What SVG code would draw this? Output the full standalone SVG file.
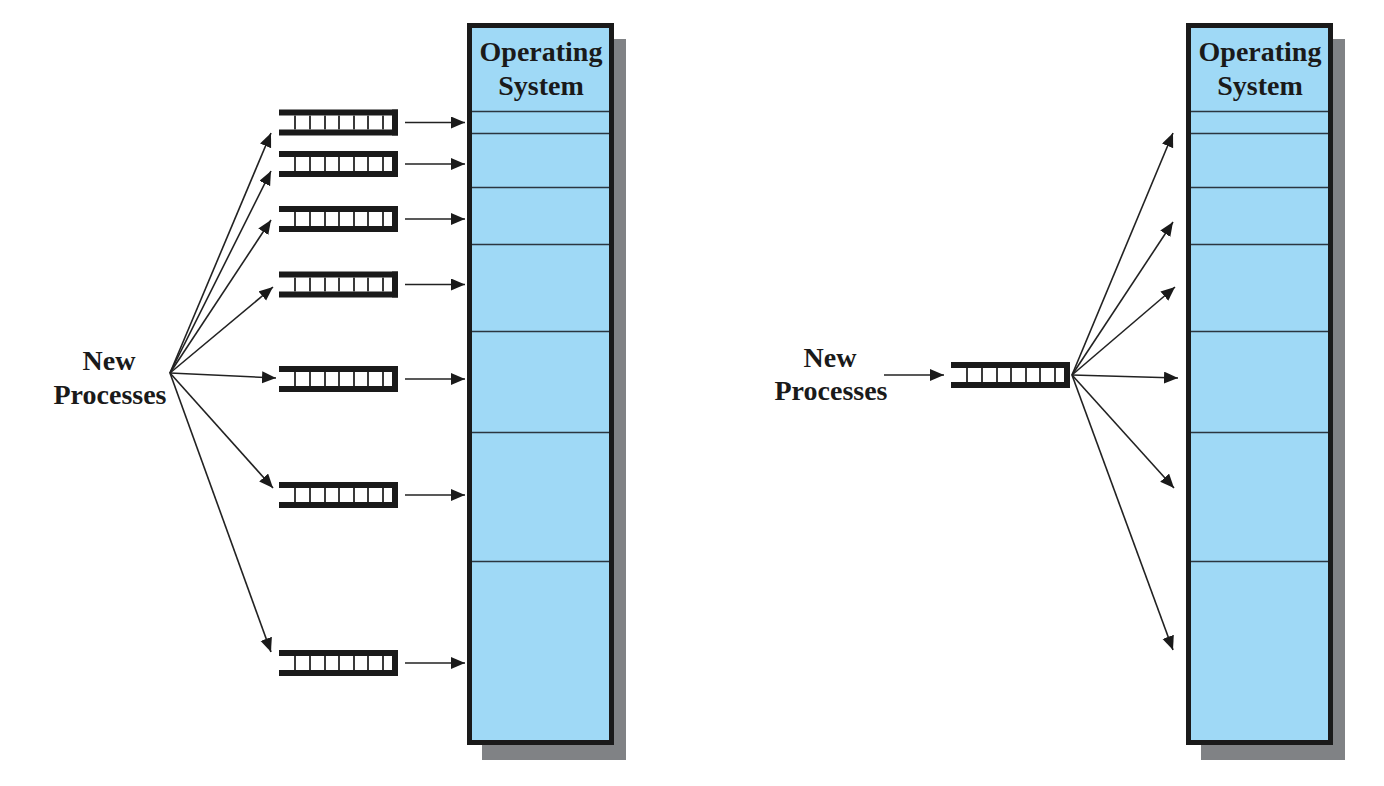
<svg xmlns="http://www.w3.org/2000/svg" xmlns:xlink="http://www.w3.org/1999/xlink" width="1384" height="786" viewBox="0 0 1384 786">
<style>
.lbl{font-family:"Liberation Serif","Times New Roman",serif;font-weight:bold;font-size:28px;fill:#1a1a1a;text-anchor:middle}
.shadow{fill:#808285}
.box{fill:#9fd9f6;stroke:#1a1a1a;stroke-width:5}
.div{stroke:#2b3640;stroke-width:1.6}
.conn{stroke:#222;stroke-width:1.6;fill:none;marker-end:url(#ah)}
.bar{fill:#1a1a1a}
.cell{stroke:#3a3a3a;stroke-width:2}
</style>
<defs>
<marker id="ah" markerUnits="userSpaceOnUse" markerWidth="15" markerHeight="13" refX="14" refY="6" orient="auto">
<path d="M0,0 L14,6 L0,12 z" fill="#1a1a1a"/>
</marker>
<g id="q">
<rect class="bar" x="0" y="-13" width="119" height="6"/>
<rect class="bar" x="0" y="7" width="119" height="6"/>
<rect class="bar" x="113" y="-13" width="6" height="26"/>
<g class="cell">
<line x1="16" y1="-7" x2="16" y2="7"/>
<line x1="31" y1="-7" x2="31" y2="7"/>
<line x1="46" y1="-7" x2="46" y2="7"/>
<line x1="60" y1="-7" x2="60" y2="7"/>
<line x1="75" y1="-7" x2="75" y2="7"/>
<line x1="89" y1="-7" x2="89" y2="7"/>
<line x1="104" y1="-7" x2="104" y2="7"/>
</g>
</g>
<g id="osbox">
<rect class="shadow" x="13" y="14" width="144" height="721"/>
<rect class="box" x="0.5" y="0.5" width="142" height="717"/>
<g class="div">
<line x1="3" y1="86.5" x2="140" y2="86.5"/>
<line x1="3" y1="108.5" x2="140" y2="108.5"/>
<line x1="3" y1="162.5" x2="140" y2="162.5"/>
<line x1="3" y1="219.5" x2="140" y2="219.5"/>
<line x1="3" y1="306.5" x2="140" y2="306.5"/>
<line x1="3" y1="407.5" x2="140" y2="407.5"/>
<line x1="3" y1="536.5" x2="140" y2="536.5"/>
</g>
<text class="lbl" x="72" y="36">Operating</text>
<text class="lbl" x="72" y="70">System</text>
</g>
</defs>

<g id="os-left"><use xlink:href="#osbox" x="469" y="25"/></g>
<g id="os-right"><use xlink:href="#osbox" x="1188" y="25"/></g>

<g id="new-left"><text class="lbl" x="109" y="370">New</text><text class="lbl" x="110" y="404">Processes</text></g>
<g id="new-right"><text class="lbl" x="830" y="367">New</text><text class="lbl" x="831" y="400">Processes</text></g>

<g id="q1"><use xlink:href="#q" x="279" y="122.5"/></g>
<g id="q2"><use xlink:href="#q" x="279" y="164"/></g>
<g id="q3"><use xlink:href="#q" x="279" y="219"/></g>
<g id="q4"><use xlink:href="#q" x="279" y="284.5"/></g>
<g id="q5"><use xlink:href="#q" x="279" y="379"/></g>
<g id="q6"><use xlink:href="#q" x="279" y="495"/></g>
<g id="q7"><use xlink:href="#q" x="279" y="663"/></g>
<g id="q-right"><use xlink:href="#q" x="951" y="375"/></g>

<g id="connectors">
<line class="conn" x1="170" y1="373" x2="271" y2="133"/>
<line class="conn" x1="170" y1="373" x2="271" y2="171"/>
<line class="conn" x1="170" y1="373" x2="271" y2="220"/>
<line class="conn" x1="170" y1="373" x2="273" y2="287"/>
<line class="conn" x1="170" y1="373" x2="276" y2="378"/>
<line class="conn" x1="170" y1="373" x2="273" y2="488"/>
<line class="conn" x1="170" y1="373" x2="271" y2="652"/>
<line class="conn" x1="405" y1="122.5" x2="465" y2="122.5"/>
<line class="conn" x1="405" y1="164" x2="465" y2="164"/>
<line class="conn" x1="405" y1="219" x2="465" y2="219"/>
<line class="conn" x1="405" y1="284.5" x2="465" y2="284.5"/>
<line class="conn" x1="405" y1="379" x2="465" y2="379"/>
<line class="conn" x1="405" y1="495" x2="465" y2="495"/>
<line class="conn" x1="405" y1="663" x2="465" y2="663"/>
<line class="conn" x1="884" y1="375" x2="944" y2="375"/>
<line class="conn" x1="1072" y1="375" x2="1173" y2="133"/>
<line class="conn" x1="1072" y1="375" x2="1173" y2="222"/>
<line class="conn" x1="1072" y1="375" x2="1175" y2="287"/>
<line class="conn" x1="1072" y1="375" x2="1178" y2="378"/>
<line class="conn" x1="1072" y1="375" x2="1174" y2="488"/>
<line class="conn" x1="1072" y1="375" x2="1173" y2="650"/>
</g>
</svg>
